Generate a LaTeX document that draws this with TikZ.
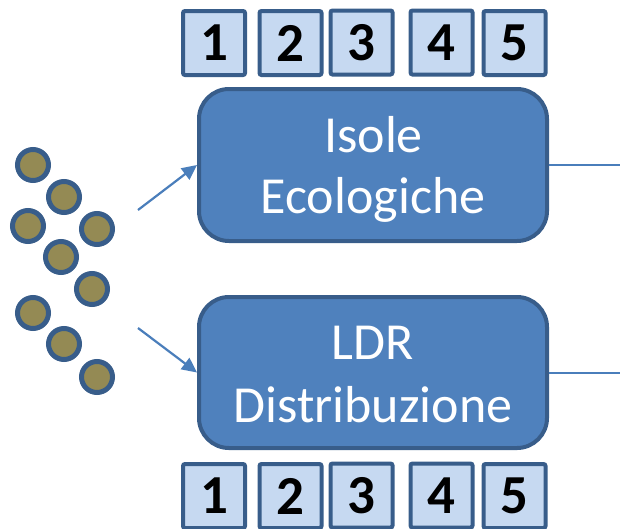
\documentclass[tikz,border=0pt]{standalone}
\usepackage{fontspec}
\setmainfont{Carlito}
\usetikzlibrary{arrows.meta}
\definecolor{boxfill}{HTML}{4F81BD}
\definecolor{boxline}{HTML}{385D8A}
\definecolor{sqfill}{HTML}{C6D9F1}
\definecolor{dotfill}{HTML}{948A54}
\definecolor{conn}{HTML}{4A7EBB}
\tikzset{
  numbox/.style={draw=boxline, fill=sqfill, line width=4pt, minimum width=62pt, minimum height=64pt, inner sep=0pt, rounded corners=2pt, font=\fontsize{55}{60}\selectfont\bfseries, text=black},
  bigbox/.style={draw=boxline, fill=boxfill, line width=4pt, minimum width=348pt, rounded corners=30pt, inner sep=0pt},
  boxtext/.style={text=white, font=\fontsize{52}{60}\selectfont, inner sep=0pt, anchor=base},
  dot/.style={circle, draw=boxline, fill=dotfill, line width=5pt, minimum size=31pt, inner sep=0pt},
  arr/.style={draw=conn, line width=2.2pt, -{Triangle[length=15pt,width=14pt]}},
  conline/.style={draw=conn, line width=2pt}
}
\begin{document}
\begin{tikzpicture}[x=1pt,y=-1pt]
\useasboundingbox (0,0) rectangle (620,528);
% top number squares
\node[numbox] (t1) at (214,43) {1};
\node[numbox] (t2) at (290.5,43) {2};
\node[numbox] (t3) at (361.5,42.5) {3};
\node[numbox] (t4) at (441.5,42.5) {4};
\node[numbox] (t5) at (514.5,43) {5};
% bottom number squares
\node[numbox] (b1) at (214,496) {1};
\node[numbox] (b2) at (290.5,496) {2};
\node[numbox] (b3) at (361.5,495.5) {3};
\node[numbox] (b4) at (441.5,495.5) {4};
\node[numbox] (b5) at (514.5,496) {5};
% main boxes
\node[bigbox, minimum height=152pt] (box1) at (373,165) {};
\node[boxtext] (box1a) at (373.5,152) {Isole};
\node[boxtext] (box1b) at (373,213) {Ecologiche};
\node[bigbox, minimum height=151pt] (box2) at (373,372.5) {};
\node[boxtext] (box2a) at (373,359) {LDR};
\node[boxtext] (box2b) at (373,422) {Distribuzione};
% dots
\node[dot] (d1) at (33,165) {};
\node[dot] (d2) at (64,197) {};
\node[dot] (d3) at (28,226) {};
\node[dot] (d4) at (97,229) {};
\node[dot] (d5) at (61,257) {};
\node[dot] (d6) at (92,289) {};
\node[dot] (d7) at (33,313) {};
\node[dot] (d8) at (64,344) {};
\node[dot] (d9) at (97,377) {};
% connectors
\coordinate (a1) at (138,210);
\coordinate (a2) at (138,328);
\coordinate (r1) at (620,165);
\coordinate (r2) at (620,372.5);
\draw[arr] (a1) -- (box1.west);
\draw[arr] (a2) -- (box2.west);
\draw[conline] (box1.east) -- (r1);
\draw[conline] (box2.east) -- (r2);
\end{tikzpicture}
\end{document}
